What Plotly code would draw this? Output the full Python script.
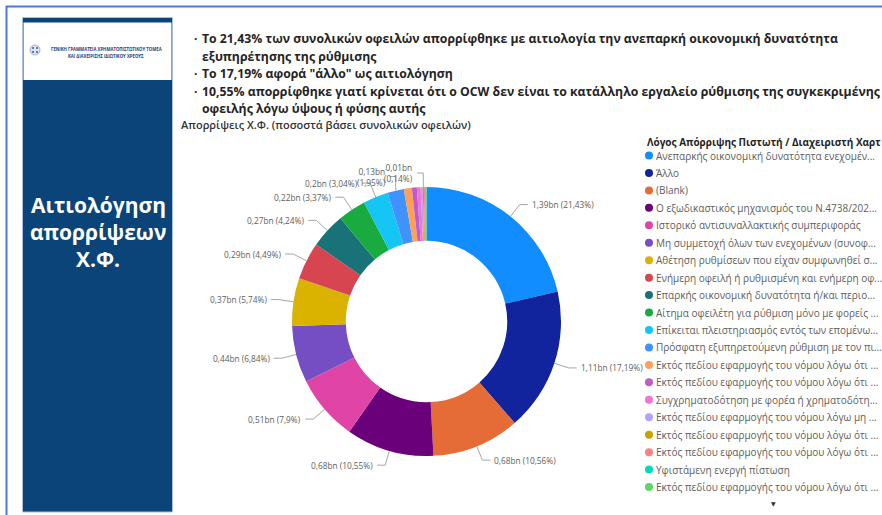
import math
import plotly.graph_objects as go

W, H = 882, 515

# ---------------- data ----------------
categories = [
    "Ανεπαρκής οικονομική δυνατότητα ενεχομέν...",
    "Άλλο",
    "(Blank)",
    "Ο εξωδικαστικός μηχανισμός του Ν.4738/202...",
    "Ιστορικό αντισυναλλακτικής συμπεριφοράς",
    "Μη συμμετοχή όλων των ενεχομένων (συνοφ...",
    "Αθέτηση ρυθμίσεων που είχαν συμφωνηθεί σ...",
    "Ενήμερη οφειλή ή ρυθμισμένη και ενήμερη οφ...",
    "Επαρκής οικονομική δυνατότητα ή/και περιο...",
    "Αίτημα οφειλέτη για ρύθμιση μόνο με φορείς ...",
    "Επίκειται πλειστηριασμός εντός των επομένω...",
    "Πρόσφατη εξυπηρετούμενη ρύθμιση με τον πι...",
    "Εκτός πεδίου εφαρμογής του νόμου λόγω ότι ...",
    "Εκτός πεδίου εφαρμογής του νόμου λόγω ότι ...",
    "Συγχρηματοδότηση με φορέα ή χρηματοδότη...",
    "Εκτός πεδίου εφαρμογής του νόμου λόγω μη ...",
    "Εκτός πεδίου εφαρμογής του νόμου λόγω ότι ...",
    "Εκτός πεδίου εφαρμογής του νόμου λόγω ότι ...",
    "Υφιστάμενη ενεργή πίστωση",
    "Εκτός πεδίου εφαρμογής του νόμου λόγω ότι ...",
]
shares_pct = [21.43, 17.19, 10.56, 10.55, 7.9, 6.84, 5.74, 4.49, 4.24, 3.37,
              3.04, 1.95, 0.95, 0.6, 0.45, 0.25, 0.14, 0.12, 0.1, 0.09]
amounts_bn = ["1,39", "1,11", "0,68", "0,68", "0,51", "0,44", "0,37", "0,29",
              "0,27", "0,22", "0,2", "0,13", None, None, None, None, "0,01",
              None, None, None]
colors = ["#118DFF", "#12239E", "#E66C37", "#6B007B", "#E044A7", "#744EC2",
          "#D9B300", "#D64550", "#197278", "#1AAB40", "#15C6F4", "#4092FF",
          "#FFA058", "#BE5DC9", "#F472D0", "#B5A1FF", "#C4A200", "#FF8080",
          "#00DBBC", "#5BD667"]

header_lines = [
    ("· ", "Το 21,43% των συνολικών οφειλών απορρίφθηκε με αιτιολογία την ανεπαρκή οικονομική δυνατότητα"),
    ("", "εξυπηρέτησης της ρύθμισης"),
    ("· ", "Το 17,19% αφορά \"άλλο\" ως αιτιολόγηση"),
    ("· ", "10,55% απορρίφθηκε γιατί κρίνεται ότι ο OCW δεν είναι το κατάλληλο εργαλείο ρύθμισης της συγκεκριμένης"),
    ("", "οφειλής λόγω ύψους ή φύσης αυτής"),
]
subtitle = "Απορρίψεις Χ.Φ. (ποσοστά βάσει συνολικών οφειλών)"
legend_title = "Λόγος Απόρριψης Πιστωτή / Διαχειριστή Χαρτ"
panel_title = ["Αιτιολόγηση", "απορρίψεων", "Χ.Φ."]
logo_lines = ["ΓΕΝΙΚΗ ΓΡΑΜΜΑΤΕΙΑ ΧΡΗΜΑΤΟΠΙΣΤΩΤΙΚΟΥ ΤΟΜΕΑ",
              "ΚΑΙ ΔΙΑΧΕΙΡΙΣΗΣ ΙΔΙΩΤΙΚΟΥ ΧΡΕΟΥΣ"]

# ---------------- geometry ----------------
CX, CY, R = 426.5, 321.5, 134.5
HOLE = 0.6
FONT = "Open Sans"
GRAY = "#605E5C"
DARK = "#252423"

fig = go.Figure()

fig.update_xaxes(range=[0, W], visible=False, fixedrange=True)
fig.update_yaxes(range=[H, 0], visible=False, fixedrange=True)

# donut
fig.add_trace(go.Pie(
    labels=[f"{c} #{i+1}" for i, c in enumerate(categories)],
    values=shares_pct,
    hovertext=categories,
    marker=dict(colors=colors, line=dict(width=0)),
    hole=HOLE,
    sort=False,
    direction="clockwise",
    rotation=0,
    textinfo="none",
    showlegend=False,
    domain=dict(x=[(CX - R) / W, (CX + R) / W],
                y=[1 - (CY + R) / H, 1 - (CY - R) / H]),
))

# data labels with leader lines
lx, ly = [], []
annotations = []
total = sum(shares_pct)
cum = 0.0
for i, v in enumerate(shares_pct):
    mid = (cum + v / 2) / total * 2 * math.pi
    cum += v
    if amounts_bn[i] is None:
        continue
    s, c = math.sin(mid), -math.cos(mid)
    x0, y0 = CX + R * s, CY + R * c
    small = v < 2
    if small:
        # tiny slices near the top: leader goes straight up, text wraps
        x1, y1 = x0, y0 - 14
        hseg = 6
    else:
        x1, y1 = CX + (R + 15) * s, CY + (R + 15) * c
        hseg = 8
    right = s >= 0
    x2 = x1 + (hseg if right else -hseg)
    lx += [x0, x1, x2, None]
    ly += [y0, y1, y1, None]
    pct = str(v).replace(".", ",")
    sep = "<br>" if small else " "
    txt = f"{amounts_bn[i]}bn{sep}({pct}%)"
    annotations.append(dict(
        x=x2 + (2 if right else -2), y=y1, xref="x", yref="y",
        text=txt, showarrow=False,
        xanchor="left" if right else "right", yanchor="middle",
        align="left" if right else "right",
        font=dict(family=FONT, size=8.3, color=GRAY),
    ))

fig.add_trace(go.Scatter(x=lx, y=ly, mode="lines",
                         line=dict(color="#A6A6A6", width=1),
                         hoverinfo="skip", showlegend=False))

# custom legend
LEG_X, LEG_Y0, LEG_DY = 649, 155.5, 17.45
fig.add_trace(go.Scatter(
    x=[LEG_X] * len(categories),
    y=[LEG_Y0 + i * LEG_DY for i in range(len(categories))],
    mode="markers",
    marker=dict(color=colors, size=8, line=dict(width=0)),
    hoverinfo="skip", showlegend=False,
))
for i, c in enumerate(categories):
    annotations.append(dict(
        x=LEG_X + 5, y=LEG_Y0 + i * LEG_DY, xref="x", yref="y",
        text=c, showarrow=False, xanchor="left", yanchor="middle",
        font=dict(family=FONT, size=10, color=GRAY),
    ))
annotations.append(dict(
    x=645, y=141.5, xref="x", yref="y", text=f"<b>{legend_title}</b>",
    showarrow=False, xanchor="left", yanchor="middle",
    font=dict(family=FONT, size=10, color=DARK),
))
annotations.append(dict(
    x=773, y=503, xref="x", yref="y", text="▼", showarrow=False,
    xanchor="center", yanchor="middle",
    font=dict(family="DejaVu Sans", size=6, color="#333333"),
))

# header text
HY0, HDY = 38.5, 17.5
for i, (bullet, line) in enumerate(header_lines):
    y = HY0 + i * HDY
    if bullet:
        annotations.append(dict(
            x=192, y=y, xref="x", yref="y", text="<b>·</b>", showarrow=False,
            xanchor="left", yanchor="middle",
            font=dict(family=FONT, size=12, color=DARK)))
    annotations.append(dict(
        x=199.5, y=y, xref="x", yref="y", text=f"<b>{line}</b>", showarrow=False,
        xanchor="left", yanchor="middle",
        font=dict(family=FONT, size=12.25, color=DARK)))

annotations.append(dict(
    x=179, y=124.5, xref="x", yref="y", text=subtitle, showarrow=False,
    xanchor="left", yanchor="middle",
    font=dict(family=FONT, size=11, color="#333333", weight=600)))

# left panel title
for i, t in enumerate(panel_title):
    annotations.append(dict(
        x=98, y=205 + i * 27, xref="x", yref="y", text=f"<b>{t}</b>",
        showarrow=False, xanchor="center", yanchor="middle",
        font=dict(family=FONT, size=21, color="#FFFFFF")))

# logo text
for i, t in enumerate(logo_lines):
    annotations.append(dict(
        x=106, y=48.5 + i * 7, xref="x", yref="y", text=f"<b>{t}</b>",
        showarrow=False, xanchor="center", yanchor="middle",
        font=dict(family=FONT, size=4.3, color="#1F3E73")))

shapes = [
    dict(type="line", x0=6, x1=W, y0=6.5, y1=6.5, xref="x", yref="y",
         line=dict(color="#4A7BD6", width=2), layer="below"),
    dict(type="line", x0=6.5, x1=6.5, y0=6, y1=H, xref="x", yref="y",
         line=dict(color="#4A7BD6", width=2), layer="below"),
    dict(type="rect", x0=22.5, x1=172.5, y0=17.5, y1=512, xref="x", yref="y",
         fillcolor="#0B4478", line=dict(color="#A9BEE0", width=1), layer="below"),
    dict(type="rect", x0=23.5, x1=171.5, y0=22.5, y1=80, xref="x", yref="y",
         fillcolor="#FFFFFF", line=dict(width=0), layer="below"),
    dict(type="circle", x0=30, x1=40, y0=45, y1=55, xref="x", yref="y",
         fillcolor="#DCE4F0", line=dict(color="#8FA3C4", width=0.8), layer="below"),
]

fig.update_layout(
    width=W, height=H,
    margin=dict(l=0, r=0, t=0, b=0),
    paper_bgcolor="#FFFFFF", plot_bgcolor="rgba(0,0,0,0)",
    shapes=shapes, annotations=annotations, showlegend=False,
)

fig.add_trace(go.Scatter(
    x=[33, 37, 33, 37], y=[48, 48, 52, 52], mode="markers",
    marker=dict(color="#3C5A8F", size=2), hoverinfo="skip", showlegend=False))

fig.write_html("out.html")
